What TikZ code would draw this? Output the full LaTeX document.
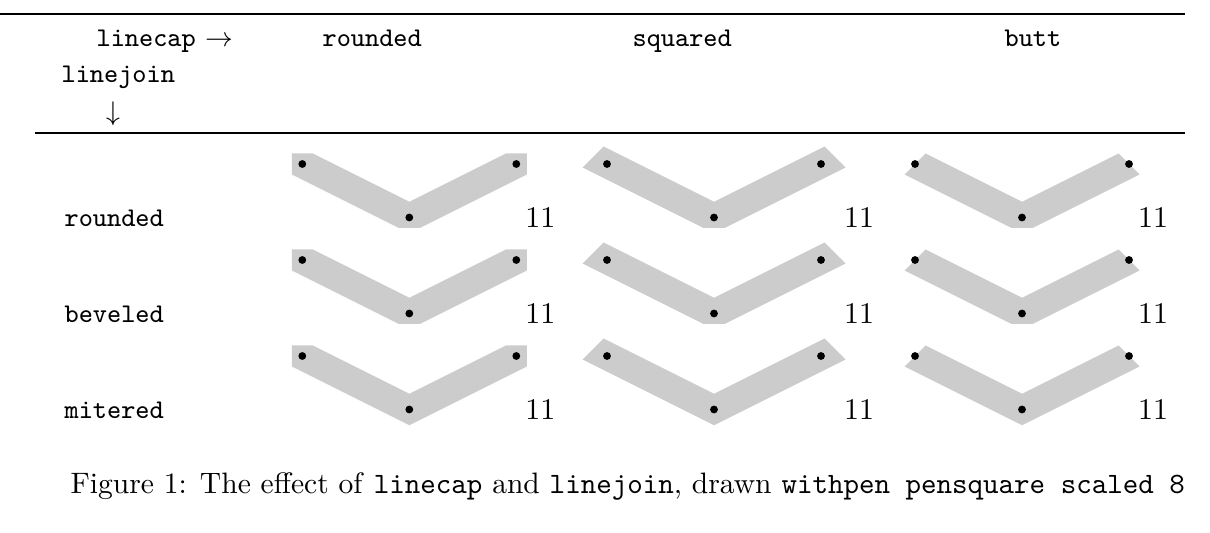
\documentclass[tikz,border=0pt]{standalone}
\begin{document}
\newcommand\chevcell[5]{%
  % #1 name, #2 Lx, #3 Ly, #4 cap (1 round, 2 squared, 3 butt), #5 join (1 round, 2 bevel, 3 miter)
  \ifcase#4\or
    \def\capL{(-10.5,10.5) -- (-10.5,-10.5) -- (10.5,-10.5)}%
    \def\capR{(203.5,-10.5) -- (224.5,-10.5) -- (224.5,10.5)}%
    \def\xmax{224.5}%
  \or
    \def\capL{(-24.5,3.5) -- (-3.5,-17.5)}%
    \def\capR{(217.5,-17.5) -- (238.5,3.5)}%
    \def\xmax{238.5}%
  \or
    \def\capL{(-10.5,10.5) -- (10.5,-10.5)}%
    \def\capR{(203.5,-10.5) -- (224.5,10.5)}%
    \def\xmax{224.5}%
  \fi
  \ifcase#5\or
    \def\joinB{(117.5,64) -- (96.5,64)}%
  \or
    \def\joinB{(117.5,64) -- (96.5,64)}%
  \or
    \def\joinB{(107,69.25)}%
  \fi
  \begin{scope}[shift={(#2,#3)}]
    \fill[penshape] \capL -- (107,37.75) -- \capR -- \joinB -- cycle;
    \fill[dotmark] (0,0) circle[radius=3.9];
    \fill[dotmark] (107,53.5) circle[radius=3.9];
    \fill[dotmark] (214,0) circle[radius=3.9];
    \node[numlabel] (#1) at (\xmax-2,64) {11};
  \end{scope}}
\begin{tikzpicture}[x=0.3333pt,y=-0.3333pt,
  penshape/.style={fill=black!20},
  dotmark/.style={fill=black},
  numlabel/.style={anchor=base west,inner sep=0pt,font=\fontsize{10}{12}\selectfont},
  tablabel/.style={anchor=base west,inner sep=0pt,font=\fontsize{9}{10.8}\selectfont\ttfamily},
  rulestyle/.style={line width=0.4pt},
  captext/.style={anchor=base west,inner sep=0pt,font=\fontsize{9.85}{12}\selectfont}]
\useasboundingbox (0,0) rectangle (1210,533);
% rules
\coordinate (r1a) at (0,14);
\coordinate (r1b) at (1185,14);
\coordinate (r2a) at (35,133);
\coordinate (r2b) at (1185,133);
\draw[rulestyle] (r1a) -- (r1b);
\draw[rulestyle] (r2a) -- (r2b);
% header
\node[tablabel,font=\fontsize{9}{10.8}\selectfont] (hcap) at (96,47) {\texttt{linecap} $\rightarrow$};
\node[tablabel] (hjoin) at (61,83) {linejoin};
\node[inner sep=0pt,font=\fontsize{9}{10.8}\selectfont] (harrow) at (113,114) {$\downarrow$};
\node[tablabel] (hround) at (322,47) {rounded};
\node[tablabel] (hsquare) at (632,47) {squared};
\node[tablabel] (hbutt) at (1004,47) {butt};
% row labels
\node[tablabel] (rround) at (64,226.5) {rounded};
\node[tablabel] (rbevel) at (64,322.5) {beveled};
\node[tablabel] (rmiter) at (64,418.5) {mitered};
% cells
\chevcell{c11}{302.3}{164}{1}{1}
\chevcell{c12}{607}{164}{2}{1}
\chevcell{c13}{915}{164}{3}{1}
\chevcell{c21}{302.3}{260}{1}{2}
\chevcell{c22}{607}{260}{2}{2}
\chevcell{c23}{915}{260}{3}{2}
\chevcell{c31}{302.3}{356}{1}{3}
\chevcell{c32}{607}{356}{2}{3}
\chevcell{c33}{915}{356}{3}{3}
% caption
\node[captext] (cap) at (70,494) {Figure 1: The effect of \texttt{linecap} and \texttt{linejoin}, drawn \texttt{withpen pensquare scaled 8}};
\end{tikzpicture}
\end{document}
